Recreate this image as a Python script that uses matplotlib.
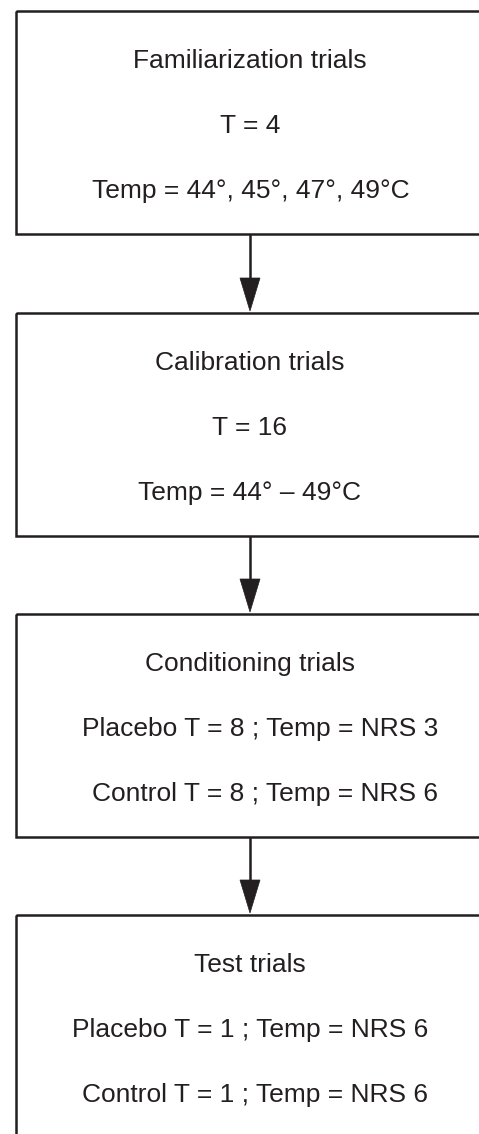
import matplotlib
matplotlib.use("Agg")
import matplotlib.pyplot as plt
from matplotlib.patches import Rectangle, Polygon

# flowchart content
titles = ["Familiarization trials", "Calibration trials",
          "Conditioning trials", "Test trials"]
line2 = ["T = 4", "T = 16",
         "Placebo T = 8 ; Temp = NRS 3", "Placebo T = 1 ; Temp = NRS 6"]
line3 = ["Temp = 44\u00b0, 45\u00b0, 47\u00b0, 49\u00b0C", "Temp = 44\u00b0 \u2013 49\u00b0C",
         "Control T = 8 ; Temp = NRS 6", "Control T = 1 ; Temp = NRS 6"]

# layout (pixel coordinates)
W, H = 479, 1134
INK = "#231f20"
box_tops = [11, 313, 614, 915]
box_h = 223
box_left, box_right = 16, 486
cx = 250
line_x2 = [250, 250, 260, 250.5]
line_x3 = [250.5, 250, 265, 255]

fig = plt.figure(figsize=(W / 100, H / 100), dpi=100)
ax = fig.add_axes([0, 0, 1, 1])
ax.set_xlim(0, W)
ax.set_ylim(H, 0)
ax.axis("off")

font = dict(family=["Liberation Sans", "DejaVu Sans"], fontsize=19, color=INK,
            ha="center", va="center")

for i, top in enumerate(box_tops):
    ax.add_patch(Rectangle((box_left, top), box_right - box_left, box_h,
                           fill=False, edgecolor=INK, linewidth=1.8))
    ax.text(cx, top + 50, titles[i], **font)
    ax.text(line_x2[i], top + 115, line2[i], **font)
    ax.text(line_x3[i], top + 180, line3[i], **font)

    # arrow to next box
    if i < len(box_tops) - 1:
        y0 = top + box_h
        y1 = box_tops[i + 1] - 2
        head = 33
        ax.plot([cx, cx], [y0, y1 - head + 2], color=INK, linewidth=1.8,
                solid_capstyle="butt")
        ax.add_patch(Polygon([(cx - 10, y1 - head), (cx + 10, y1 - head), (cx, y1)],
                             closed=True, facecolor=INK, edgecolor=INK, linewidth=0.5))

fig.savefig("out.png", dpi=100)
